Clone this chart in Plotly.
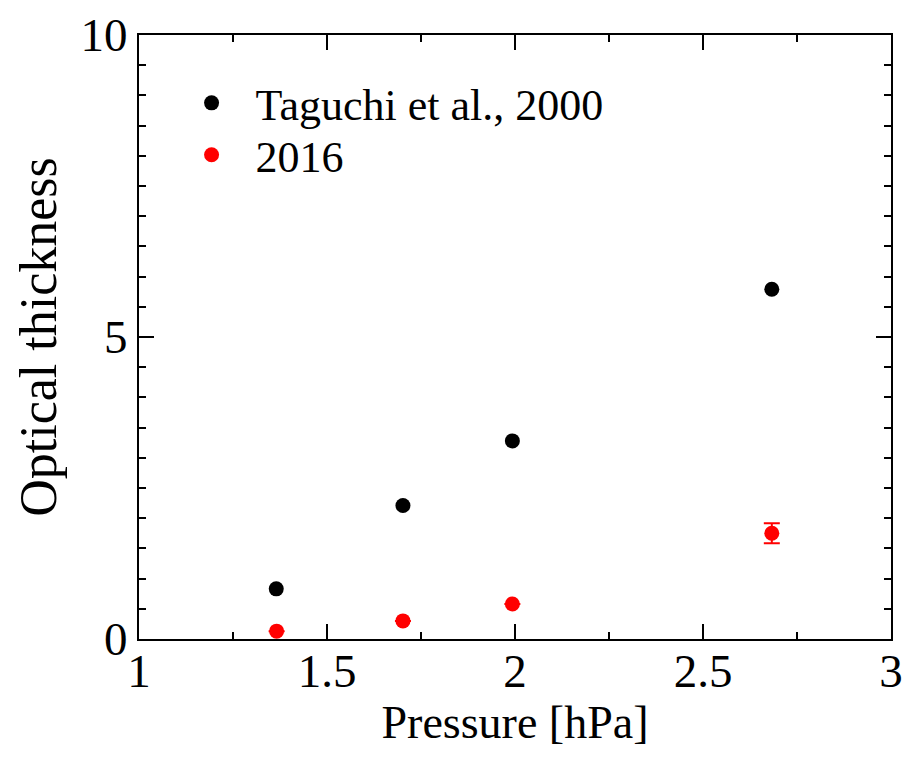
import plotly.graph_objects as go

# Data
pressure_taguchi = [1.365, 1.702, 1.993, 2.683]
tau_taguchi = [0.83, 2.21, 3.28, 5.79]

pressure_2016 = [1.366, 1.702, 1.993, 2.683]
tau_2016 = [0.13, 0.30, 0.58, 1.75]
tau_2016_err = [None, None, None, 0.165]

x_ticks = [1, 1.5, 2, 2.5, 3]
x_ticklabels = ["1", "1.5", "2", "2.5", "3"]
y_ticks = [0, 5, 10]
y_ticklabels = ["0", "5", "10"]

FONT = "Liberation Serif"

fig = go.Figure()
fig.add_trace(go.Scatter(
    x=pressure_taguchi, y=tau_taguchi, mode="markers",
    name="Taguchi et al., 2000", legend="legend",
    marker=dict(color="black", size=15, symbol="circle"),
))
fig.add_trace(go.Scatter(
    x=pressure_2016, y=tau_2016, mode="markers",
    name="2016", legend="legend2",
    marker=dict(color="#ff0000", size=15, symbol="circle"),
    error_y=dict(type="data", array=tau_2016_err, visible=True,
                 color="#ff0000", thickness=2, width=8),
))

axis_common = dict(
    showgrid=False, zeroline=False, showline=True, linecolor="black",
    linewidth=2, mirror="ticks", ticks="inside", tickcolor="black",
    tickwidth=2, ticklen=15, automargin=False,
    tickfont=dict(family=FONT, size=47, color="black"),
)

fig.update_xaxes(
    range=[1, 3], tickvals=x_ticks, ticktext=x_ticklabels,
    minor=dict(dtick=0.25, ticks="inside", ticklen=7, tickwidth=2, tickcolor="black"),
    ticklabelstandoff=-10,
    title=dict(text="Pressure [hPa]", font=dict(family=FONT, size=46, color="black"), standoff=0),
    **axis_common,
)
fig.update_yaxes(
    range=[0, 10], tickvals=y_ticks, ticktext=y_ticklabels,
    minor=dict(dtick=0.5, ticks="inside", ticklen=7, tickwidth=2, tickcolor="black"),
    title=dict(text="Optical thickness", font=dict(family=FONT, size=52, color="black"), standoff=7),
    **axis_common,
)

legend_common = dict(
    xanchor="left", yanchor="middle",
    bgcolor="rgba(0,0,0,0)", borderwidth=0,
    font=dict(family=FONT, size=44, color="black"),
    itemwidth=78,
)

fig.update_layout(
    width=911, height=758,
    margin=dict(l=139, r=20, t=35, b=119),
    paper_bgcolor="white", plot_bgcolor="white",
    showlegend=True,
    legend=dict(x=0.038, y=0.887, **legend_common),
    legend2=dict(x=0.038, y=0.801, **legend_common),
)

fig.write_html("out.html")
